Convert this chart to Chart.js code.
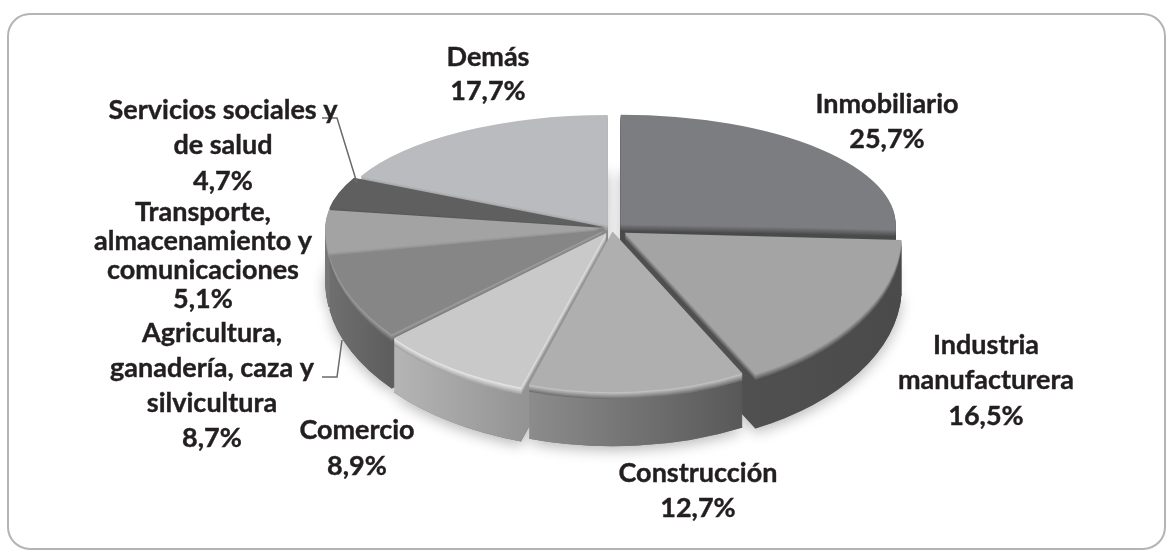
<!DOCTYPE html>
<html><head><meta charset="utf-8">
<style>html,body{margin:0;padding:0;background:#fff}#w{width:1172px;height:559px;position:relative}</style>
<script src="https://cdn.jsdelivr.net/npm/chart.js@4"></script>
</head><body><div id="w"><canvas id="c" width="1172" height="559"></canvas></div>
<script>
const categories = ['Inmobiliario','Industria manufacturera','Construcción','Comercio','Agricultura, ganadería, caza y silvicultura','Transporte, almacenamiento y comunicaciones','Servicios sociales y de salud','Demás'];
const shares = [25.7,16.5,12.7,8.9,8.7,5.1,4.7,17.7];
const shareLabels = ['25,7%','16,5%','12,7%','8,9%','8,7%','5,1%','4,7%','17,7%'];
const topColors = ['#7c7d81','#a4a4a4','#afafaf','#c9c9c9','#868686','#a3a3a3','#5f5f5f','#b9bbbe'];
const rimColors = ['#7c7d81','#a4a4a4','#cfcfcf','#f0f0f0','#a8a8a8','#a3a3a3','#5f5f5f','#b9bbbe'];
const wallLeft  = ['#4a4a4a','#505050','#8c8c8c','#b4b4b4','#6e6e6e','#777777','#444444','#8a8a8a'];
const wallRight = ['#4a4a4a','#4a4a4a','#585858','#949494','#5c5c5c','#777777','#444444','#8a8a8a'];
const explode = [48,60,24,40,32,28,28,32];
const labelLines = [['Inmobiliario'],['Industria','manufacturera'],['Construcción'],['Comercio'],['Agricultura,','ganadería, caza y','silvicultura'],['Transporte,','almacenamiento y','comunicaciones'],['Servicios sociales y','de salud'],['Demás']];
const labelAnchors = [[887,104,35],[986,345,35.5],[698,473,35],[357,430,36],[212,333,35.2],[203,212,29],[223,110,35.5],[488,57,34]];

const CX_PAD = 52, BOTTOM_PAD = 103, RADIUS = 275, DEPTH = 54, BEVEL = 7, SY_UP = 0.40, SY_LOW = 0.581;

function parseHex(h){return [1,3,5].map(i=>parseInt(h.substr(i,2),16));}
function mixHex(a,b,t){
  const A=parseHex(a),B=parseHex(b);
  return '#'+A.map((v,i)=>Math.round(v+(B[i]-v)*t).toString(16).padStart(2,'0')).join('');
}
function drawMapped(ctx,chart,arc,d,fill){
  const cx=arc.x, cy=arc.y, W=chart.width, H=chart.height;
  const orig=arc.options;
  const o=Object.create(orig);
  Object.defineProperty(o,'backgroundColor',{value:fill});
  Object.defineProperty(o,'borderWidth',{value:0});
  arc.options=o;
  [[-1,SY_UP],[1,SY_LOW]].forEach(([side,s])=>{
    ctx.save();
    ctx.beginPath();
    if(side<0) ctx.rect(0,0,W,cy+d); else ctx.rect(0,cy+d,W,H-cy-d);
    ctx.clip();
    ctx.translate(cx,cy+d); ctx.scale(1,s); ctx.translate(-cx,-cy);
    arc.draw(ctx);
    ctx.restore();
  });
  arc.options=orig;
}
const pie3d={
  id:'pie3d',
  beforeDraw(chart){
    const ctx=chart.ctx;
    ctx.save();
    ctx.strokeStyle='#b4b4b8'; ctx.lineWidth=2;
    ctx.beginPath(); ctx.roundRect(8,14,1157,535,22); ctx.stroke();
    ctx.restore();
  },
  beforeDatasetsDraw(chart){
    const ctx=chart.ctx, arcs=chart.getDatasetMeta(0).data;
    const mid=a=>Math.sin((a.startAngle+a.endAngle)/2);
    const order=arcs.map((a,i)=>i).sort((p,q)=>mid(arcs[p])-mid(arcs[q]));
    ctx.save();
    ctx.shadowColor='rgba(0,0,0,0.28)'; ctx.shadowBlur=14; ctx.shadowOffsetY=4;
    order.forEach(i=>drawMapped(ctx,chart,arcs[i],DEPTH,'#777777'));
    ctx.restore();
    order.forEach(i=>{
      const a=arcs[i];
      const ends=[a.startAngle,a.endAngle].map(t=>a.x+Math.cos(t)*RADIUS);
      const x0=Math.min(...ends),x1=Math.max(...ends);
      const gs=ctx.createLinearGradient(x0,0,x1+1,0);
      gs.addColorStop(0,wallLeft[i]); gs.addColorStop(1,wallRight[i]);
      const wallMid=mixHex(wallLeft[i],wallRight[i],0.5);
      for(let d=DEPTH;d>=1;d--){
        if(d>BEVEL) drawMapped(ctx,chart,a,d,gs);
        else drawMapped(ctx,chart,a,d,mixHex(rimColors[i],wallMid,d/BEVEL));
      }
    });
    order.forEach(i=>drawMapped(ctx,chart,arcs[i],0,topColors[i]));
    return false;
  },
  afterDraw(chart){
    const ctx=chart.ctx;
    ctx.save();
    ctx.strokeStyle='#6a6a6a'; ctx.lineWidth=1.5;
    ctx.beginPath(); ctx.moveTo(322,118); ctx.lineTo(337,118); ctx.lineTo(357,183); ctx.stroke();
    ctx.beginPath(); ctx.moveTo(322,377); ctx.lineTo(337,377); ctx.lineTo(342,340); ctx.stroke();
    ctx.fillStyle='#231f20'; ctx.strokeStyle='#231f20'; ctx.lineWidth=0.4;
    ctx.font='bold 27px Lato'; ctx.textAlign='center'; ctx.textBaseline='middle';
    categories.forEach((c,i)=>{
      const [x,y,step]=labelAnchors[i];
      labelLines[i].concat([shareLabels[i]]).forEach((t,k)=>{
        ctx.fillText(t,x,y+k*step); ctx.strokeText(t,x,y+k*step);
      });
    });
    ctx.restore();
  }
};
new Chart(document.getElementById('c'),{
  type:'pie',
  data:{labels:categories,datasets:[{data:shares,backgroundColor:topColors,borderWidth:0,offset:explode}]},
  options:{
    responsive:false,animation:false,radius:RADIUS,
    layout:{padding:{left:CX_PAD,bottom:BOTTOM_PAD}},
    plugins:{legend:{display:false},tooltip:{enabled:false}}
  },
  plugins:[pie3d]
});
</script></body></html>
